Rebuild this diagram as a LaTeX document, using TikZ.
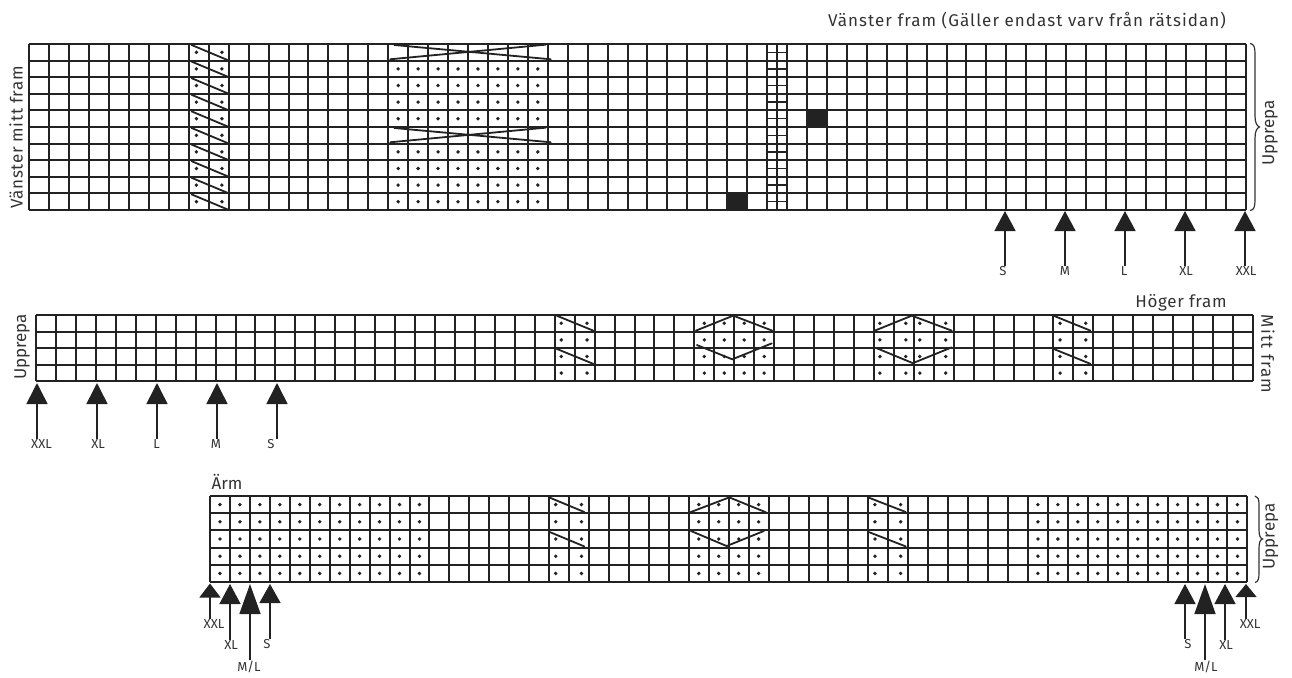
\documentclass[tikz,border=0pt]{standalone}
\usepackage{fontspec}
\setmainfont{Fira Sans}
\usetikzlibrary{arrows.meta}
\definecolor{inkdark}{HTML}{222222}
\definecolor{textdark}{HTML}{333333}
\tikzset{
  gridline/.style={draw=inkdark,line width=2pt},
  slant/.style={draw=inkdark,line width=1.8pt,line cap=round},
  stitchdot/.style={fill=inkdark},
  blackcell/.style={fill=inkdark},
  brace/.style={draw=textdark,line width=1.2pt},
  heading/.style={text=textdark,font=\fontsize{17}{18}\selectfont\addfontfeature{LetterSpace=#1},inner sep=0pt},
  heading/.default=0,
  sizelabel/.style={text=textdark,font=\fontsize{13}{14}\selectfont,inner sep=0.5pt},
}
\begin{document}
\begin{tikzpicture}[x=1pt,y=-1pt]
\useasboundingbox (0,0) rectangle (1292,677);
% headings
\node[heading=6.2] (leftfront) at (1027,21) {Vänster fram (Gäller endast varv från rätsidan)};
\node[heading=3.8,rotate=90] (leftcentre) at (16,137.5) {Vänster mitt fram};
\node[heading,rotate=90] (repeat1) at (1270,133) {Upprepa};
\node[heading=3.9] (rightfront) at (1181,303) {Höger fram};
\node[heading,rotate=90] (repeat2) at (22,347) {Upprepa};
\node[heading=6.5,rotate=-90] (centre) at (1268,354) {Mitt fram};
\node[heading] (sleeve) at (227,482) {Ärm};
\node[heading,rotate=90] (repeat3) at (1270.5,536.5) {Upprepa};
% upper chart
\begin{scope}[shift={(29.3,44)},x=19.94pt,y=-16.6pt]
\fill[blackcell] (35,9) rectangle (36,10);
\fill[blackcell] (39,4) rectangle (40,5);
\foreach \i in {0,...,61}
  \draw[gridline] (\i,0)--(\i,10);
\foreach \j in {0,...,10}
  \draw[gridline] (0,\j)--(61,\j);
\foreach \j in {0,...,9}{
  \draw[slant] (8.14,\j+.06)--(9.93,\j+.96);
  \fill[stitchdot] (8.38,\j+.5) circle[radius=1.9pt];
  \fill[stitchdot] (9.66,\j+.5) circle[radius=1.9pt];
  \draw[gridline,line width=1.4pt] (37,\j+.5)--(38,\j+.5);
}
\draw[gridline,line width=1.4pt] (37.5,0)--(37.5,10);
\foreach \j in {1,2,3,4,6,7,8,9}
  \foreach \i in {18,...,25}
    \fill[stitchdot] (\i+.5,\j+.5) circle[radius=1.9pt];
\foreach \j in {0,5}{
  \draw[slant] (18.3,\j+.06)--(26.15,\j+.92);
  \draw[slant] (18.1,\j+.92)--(25.9,\j+.04);
}
\end{scope}
% middle chart
\begin{scope}[shift={(36,315)},x=19.95pt,y=-16.6pt]
\foreach \i in {0,...,61}
  \draw[gridline] (\i,0)--(\i,4);
\foreach \j in {0,...,4}
  \draw[gridline] (0,\j)--(61,\j);
\foreach \j in {0,...,3}{
  \foreach \i in {26.33,27.62,51.33,52.62,33.5,34.5,35.5,36.5,42.3,43.6,44.3,45.6}
    \fill[stitchdot] (\i,\j+.5) circle[radius=1.9pt];
}
\foreach \j in {0,2}{
  \draw[slant] (26.1,\j+.04)--(27.93,\j+.94);
  \draw[slant] (51,\j+.04)--(52.85,\j+.94);
}
\draw[slant] (33.08,.94)--(34.95,.04)--(36.9,.94);
\draw[slant] (33.13,1.81)--(34.9,2.67)--(36.88,1.71);
\draw[slant] (42.05,.94)--(43.9,.04)--(45.9,.94);
\draw[slant] (42.14,2)--(43.95,2.9)--(45.9,1.95);
\end{scope}
% lower chart
\begin{scope}[shift={(210,496)},x=19.95pt,y=-17.2pt]
\foreach \i in {0,...,52}
  \draw[gridline] (\i,0)--(\i,5);
\foreach \j in {0,...,5}
  \draw[gridline] (0,\j)--(52,\j);
\foreach \j in {0,...,4}{
  \foreach \i in {0,...,10}
    \fill[stitchdot] (\i+.5,\j+.5) circle[radius=1.9pt];
  \foreach \i in {41,...,51}
    \fill[stitchdot] (\i+.5,\j+.5) circle[radius=1.9pt];
  \foreach \i in {17.33,18.62,33.33,34.62,24.5,25.5,26.5,27.5}
    \fill[stitchdot] (\i,\j+.5) circle[radius=1.9pt];
}
\foreach \j in {0,2}{
  \draw[slant] (17.04,\j+.1)--(18.76,\j+.93);
  \draw[slant] (33.03,\j+.1)--(34.87,\j+.93);
}
\draw[slant] (24.06,.95)--(26.03,.08)--(27.87,.95);
\draw[slant] (24.1,2.03)--(25.9,2.91)--(27.77,2.03);
\end{scope}
% braces
\draw[brace] (1250,43.5) .. controls (1254,44) and (1255,47) .. (1255,54) -- (1255,116)
  .. controls (1255,123) and (1257,126) .. (1259.5,127) .. controls (1257,128) and (1255,131) .. (1255,138)
  -- (1255,200) .. controls (1255,207) and (1254,210) .. (1250,210.5);
\draw[brace] (1255,496) .. controls (1258,496.5) and (1259,499) .. (1259,505) -- (1259,530)
  .. controls (1259,536) and (1260.5,538.5) .. (1262.5,539) .. controls (1260.5,539.5) and (1259,542) .. (1259,548)
  -- (1259,573) .. controls (1259,579) and (1258,582) .. (1255,582.5);
% size arrows
\coordinate (t1) at (1005,211);
\coordinate (t2) at (1065,211);
\coordinate (t3) at (1125,211);
\coordinate (t4) at (1185,211);
\coordinate (t5) at (1245,211);
\node[sizelabel] (l1) at (1003,271) {S};
\node[sizelabel] (l2) at (1065,271) {M};
\node[sizelabel] (l3) at (1124,271) {L};
\node[sizelabel] (l4) at (1186,271) {XL};
\node[sizelabel] (l5) at (1246,271) {XXL};
\coordinate (t6) at (37,383);
\coordinate (t7) at (97,383);
\coordinate (t8) at (157,383);
\coordinate (t9) at (217,383);
\coordinate (t10) at (277,383);
\node[sizelabel] (l6) at (41.5,444) {XXL};
\node[sizelabel] (l7) at (98,444) {XL};
\node[sizelabel] (l8) at (156.5,444) {L};
\node[sizelabel] (l9) at (216,444) {M};
\node[sizelabel] (l10) at (271,444) {S};
\coordinate (t11) at (210,583.5);
\coordinate (t12) at (230,584);
\coordinate (t13) at (250,584);
\coordinate (t14) at (270,584);
\node[sizelabel] (l11) at (214,624) {XXL};
\node[sizelabel] (l12) at (231,645) {XL};
\node[sizelabel] (l13) at (249,667) {M/L};
\node[sizelabel] (l14) at (267,644) {S};
\coordinate (t15) at (1185,584);
\coordinate (t16) at (1205,584);
\coordinate (t17) at (1225,584);
\coordinate (t18) at (1246,584);
\node[sizelabel] (l15) at (1188,644) {S};
\node[sizelabel] (l16) at (1206,667) {M/L};
\node[sizelabel] (l17) at (1226,645) {XL};
\node[sizelabel] (l18) at (1250,624) {XXL};
\foreach \a/\b/\h in {l1/t1/20,l2/t2/20,l3/t3/20,l4/t4/20,l5/t5/20,l6/t6/21,l7/t7/21,l8/t8/21,l9/t9/21,l10/t10/21,
  l11/t11/14,l12/t12/20,l13/t13/30,l14/t14/19,l15/t15/20,l16/t16/30,l17/t17/20,l18/t18/13}
  \draw[draw=inkdark,line width=1.6pt,-{Triangle[length=\h pt,width=21pt]}] (\b |- \a.north)--(\b);
\end{tikzpicture}
\end{document}
